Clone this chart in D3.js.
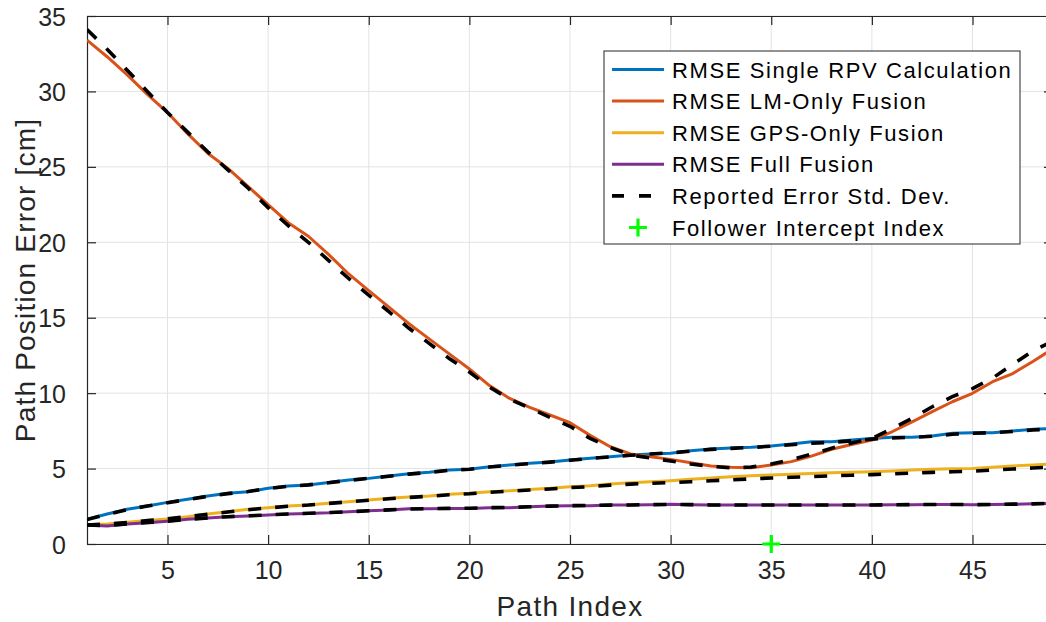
<!DOCTYPE html>
<html>
<head>
<meta charset="utf-8">
<script src="https://cdn.jsdelivr.net/npm/d3@7"></script>
<style>
  body { margin: 0; background: #fff; }
  svg { display: block; font-family: "Liberation Sans", Arial, Helvetica, sans-serif; }
</style>
</head>
<body>
<div id="chart"></div>
<script>
// path index 1..49
var pathIndex = d3.range(1, 50);

// RMSE curves [cm]
var rmseSingle = [1.64, 1.99, 2.30, 2.52, 2.76, 2.96, 3.18, 3.36, 3.47, 3.69,
  3.84, 3.91, 4.07, 4.24, 4.35, 4.50, 4.65, 4.75, 4.90, 4.95,
  5.12, 5.24, 5.35, 5.44, 5.57, 5.68, 5.79, 5.90, 5.97, 6.01,
  6.18, 6.30, 6.36, 6.41, 6.50, 6.63, 6.78, 6.78, 6.89, 7.00,
  7.07, 7.07, 7.16, 7.34, 7.38, 7.38, 7.49, 7.60, 7.65];

var rmseLM = [33.4, 32.3, 31.1, 29.8, 28.6, 27.2, 25.9, 24.9, 23.7, 22.5,
  21.3, 20.4, 19.2, 17.9, 16.8, 15.7, 14.6, 13.6, 12.6, 11.6,
  10.5, 9.65, 9.06, 8.55, 8.04, 7.2, 6.45, 5.97, 5.79, 5.61,
  5.39, 5.17, 5.08, 5.06, 5.24, 5.46, 5.83, 6.28, 6.60, 6.89,
  7.44, 8.10, 8.77, 9.43, 9.99, 10.76, 11.3, 12.1, 12.95];

var rmseGPS = [1.26, 1.33, 1.44, 1.55, 1.66, 1.81, 1.99, 2.14, 2.30, 2.41,
  2.52, 2.59, 2.70, 2.80, 2.92, 3.03, 3.12, 3.18, 3.29, 3.36,
  3.47, 3.53, 3.62, 3.69, 3.80, 3.86, 3.98, 4.06, 4.13, 4.20,
  4.29, 4.37, 4.46, 4.53, 4.57, 4.62, 4.68, 4.72, 4.76, 4.79,
  4.84, 4.90, 4.95, 4.98, 5.00, 5.08, 5.17, 5.24, 5.30];

var rmseFull = [1.26, 1.19, 1.33, 1.41, 1.50, 1.64, 1.72, 1.81, 1.86, 1.92,
  1.99, 2.03, 2.07, 2.14, 2.20, 2.25, 2.34, 2.34, 2.36, 2.36,
  2.41, 2.41, 2.47, 2.52, 2.54, 2.54, 2.59, 2.59, 2.61, 2.63,
  2.61, 2.59, 2.59, 2.59, 2.59, 2.59, 2.59, 2.59, 2.59, 2.59,
  2.60, 2.61, 2.62, 2.62, 2.60, 2.62, 2.64, 2.66, 2.70];

// reported error std. dev. (dashed) for each solution
var stdSingle = [1.62, 1.97, 2.28, 2.52, 2.74, 2.95, 3.16, 3.34, 3.48, 3.68,
  3.83, 3.92, 4.06, 4.22, 4.35, 4.49, 4.63, 4.75, 4.88, 4.96,
  5.10, 5.22, 5.33, 5.43, 5.55, 5.67, 5.78, 5.88, 5.97, 6.04,
  6.16, 6.27, 6.34, 6.40, 6.48, 6.58, 6.68, 6.74, 6.84, 6.95,
  7.03, 7.07, 7.14, 7.28, 7.34, 7.38, 7.46, 7.56, 7.62];

var stdLM = [34.1, 32.8, 31.4, 30.0, 28.6, 27.3, 26.0, 24.8, 23.6, 22.3,
  21.1, 20.0, 18.8, 17.6, 16.5, 15.4, 14.3, 13.3, 12.3, 11.4,
  10.4, 9.6, 9.0, 8.4, 7.8, 7.0, 6.4, 5.9, 5.7, 5.5,
  5.3, 5.15, 5.05, 5.1, 5.3, 5.6, 5.95, 6.35, 6.7, 7.0,
  7.65, 8.33, 9.1, 9.77, 10.3, 11.0, 11.9, 12.8, 13.45];

var stdGPS = [1.26, 1.32, 1.43, 1.55, 1.67, 1.82, 1.98, 2.12, 2.27, 2.39,
  2.50, 2.58, 2.69, 2.79, 2.90, 3.00, 3.09, 3.16, 3.26, 3.33,
  3.43, 3.50, 3.58, 3.65, 3.74, 3.80, 3.90, 3.97, 4.02, 4.07,
  4.13, 4.19, 4.25, 4.32, 4.37, 4.42, 4.47, 4.52, 4.56, 4.60,
  4.65, 4.70, 4.75, 4.79, 4.83, 4.90, 4.97, 5.04, 5.10];

var stdFull = [1.26, 1.22, 1.33, 1.42, 1.51, 1.63, 1.73, 1.81, 1.87, 1.93,
  1.99, 2.04, 2.08, 2.14, 2.20, 2.26, 2.32, 2.34, 2.36, 2.37,
  2.41, 2.42, 2.47, 2.51, 2.54, 2.55, 2.58, 2.59, 2.61, 2.62,
  2.61, 2.59, 2.59, 2.59, 2.59, 2.59, 2.59, 2.59, 2.59, 2.59,
  2.60, 2.61, 2.62, 2.62, 2.61, 2.62, 2.64, 2.66, 2.70];

// follower intercept index marker
var interceptIndex = [35];
var interceptValue = [0];

var xTicks = [5, 10, 15, 20, 25, 30, 35, 40, 45];
var yTicks = [0, 5, 10, 15, 20, 25, 30, 35];

var seriesNames = ["RMSE Single RPV Calculation", "RMSE LM-Only Fusion",
  "RMSE GPS-Only Fusion", "RMSE Full Fusion"];
var seriesColors = ["#0072BD", "#D95319", "#EDB120", "#7E2F8E"];

// svg size
var svgWidth = 1046;
var svgHeight = 622;

// axes box (right edge runs just past the picture)
var margin = { top: 16, right: -7, bottom: 78, left: 87 };
var width = svgWidth - margin.left - margin.right;
var height = svgHeight - margin.top - margin.bottom;

var svg = d3.select("#chart")
  .append("svg")
  .attr("width", svgWidth)
  .attr("height", svgHeight);

var chartGroup = svg.append("g")
  .attr("transform", `translate(${margin.left}, ${margin.top})`);

var xScale = d3.scaleLinear().domain([1, 49]).range([0, width]);
var yScale = d3.scaleLinear().domain([0, 35]).range([height, 0]);

var axisColor = "#262626";
var gridColor = "#e3e3e3";

// grid lines
chartGroup.append("g")
  .selectAll("line")
  .data(xTicks)
  .enter()
  .append("line")
  .attr("x1", d => xScale(d)).attr("x2", d => xScale(d))
  .attr("y1", 0).attr("y2", height)
  .attr("stroke", gridColor).attr("stroke-width", 1);

chartGroup.append("g")
  .selectAll("line")
  .data(yTicks)
  .enter()
  .append("line")
  .attr("x1", 0).attr("x2", width)
  .attr("y1", d => yScale(d)).attr("y2", d => yScale(d))
  .attr("stroke", gridColor).attr("stroke-width", 1);

// axes with inward ticks on all four sides
var bottomAxis = d3.axisBottom(xScale).tickValues(xTicks).tickSizeInner(-9).tickSizeOuter(0).tickPadding(17);
var topAxis = d3.axisTop(xScale).tickValues(xTicks).tickSizeInner(-9).tickSizeOuter(0).tickFormat("");
var leftAxis = d3.axisLeft(yScale).tickValues(yTicks).tickSizeInner(-9).tickSizeOuter(0).tickPadding(21);
var rightAxis = d3.axisRight(yScale).tickValues(yTicks).tickSizeInner(-9).tickSizeOuter(0).tickFormat("");

var xAxis = chartGroup.append("g")
  .attr("transform", `translate(0, ${height})`)
  .call(bottomAxis);
var xAxisTop = chartGroup.append("g").call(topAxis);
var yAxis = chartGroup.append("g").call(leftAxis);
var yAxisRight = chartGroup.append("g")
  .attr("transform", `translate(${width}, 0)`)
  .call(rightAxis);

[xAxis, xAxisTop, yAxis, yAxisRight].forEach(function(g) {
  g.select(".domain").attr("stroke", axisColor).attr("stroke-width", 1.2);
  g.selectAll(".tick line").attr("stroke", axisColor).attr("stroke-width", 1.2);
  g.selectAll(".tick text")
    .attr("fill", axisColor)
    .style("font-size", "25px")
    .style("font-family", "'Liberation Sans', Arial, sans-serif");
});
yAxis.selectAll(".tick text").attr("dy", "0.36em");

// clip the curves to the axes box
svg.append("defs").append("clipPath")
  .attr("id", "plotClip")
  .append("rect")
  .attr("x", 0).attr("y", 0)
  .attr("width", width).attr("height", height);

var plotGroup = chartGroup.append("g").attr("clip-path", "url(#plotClip)");

var lineGen = d3.line()
  .x((d, i) => xScale(pathIndex[i]))
  .y(d => yScale(d));

var rmseSeries = [rmseSingle, rmseLM, rmseGPS, rmseFull];
var stdSeries = [stdSingle, stdLM, stdGPS, stdFull];

// solid RMSE curves
plotGroup.selectAll(".rmse")
  .data(rmseSeries)
  .enter()
  .append("path")
  .attr("class", "rmse")
  .attr("d", d => lineGen(d))
  .attr("fill", "none")
  .attr("stroke", (d, i) => seriesColors[i])
  .attr("stroke-width", 3)
  .attr("stroke-linejoin", "round");

// dashed std. dev. curves
plotGroup.selectAll(".std")
  .data(stdSeries)
  .enter()
  .append("path")
  .attr("class", "std")
  .attr("d", d => lineGen(d))
  .attr("fill", "none")
  .attr("stroke", "#000")
  .attr("stroke-width", 3.6)
  .attr("stroke-dasharray", "13,14");

// intercept marker
chartGroup.selectAll(".intercept")
  .data(interceptIndex)
  .enter()
  .append("path")
  .attr("class", "intercept")
  .attr("d", "M-9,0H9M0,-9V9")
  .attr("transform", (d, i) => `translate(${xScale(d)}, ${yScale(interceptValue[i])})`)
  .attr("stroke", "#00FF00")
  .attr("stroke-width", 3.2)
  .attr("fill", "none");

// axis labels
svg.append("text")
  .attr("x", margin.left + xScale(25))
  .attr("y", 616)
  .attr("text-anchor", "middle")
  .attr("fill", axisColor)
  .style("font-size", "28px")
  .style("letter-spacing", "1.3px")
  .text("Path Index");

svg.append("text")
  .attr("transform", "rotate(-90)")
  .attr("x", -(margin.top + height / 2))
  .attr("y", 35)
  .attr("text-anchor", "middle")
  .attr("fill", axisColor)
  .style("font-size", "28px")
  .style("letter-spacing", "1.2px")
  .text("Path Position Error [cm]");

// legend
var legend = svg.append("g").attr("transform", "translate(604, 51)");
legend.append("rect")
  .attr("x", 0).attr("y", 0)
  .attr("width", 416).attr("height", 193)
  .attr("fill", "#fff")
  .attr("stroke", axisColor)
  .attr("stroke-width", 1);

var legendNames = seriesNames.concat(["Reported Error Std. Dev.", "Follower Intercept Index"]);
var rowY = d => 18.5 + d * 31.6;

legendNames.forEach(function(name, i) {
  var row = legend.append("g").attr("transform", `translate(0, ${rowY(i)})`);
  if (i < 4) {
    row.append("line")
      .attr("x1", 8).attr("x2", 60)
      .attr("stroke", seriesColors[i]).attr("stroke-width", 3);
  } else if (i === 4) {
    row.append("line")
      .attr("x1", 8).attr("x2", 60)
      .attr("stroke", "#000").attr("stroke-width", 3.6)
      .attr("stroke-dasharray", "12,15");
  } else {
    row.append("path")
      .attr("d", "M25,0H43M34,-9V9")
      .attr("stroke", "#00FF00").attr("stroke-width", 3.2);
  }
  row.append("text")
    .attr("x", 68)
    .attr("y", 8)
    .attr("fill", "#000")
    .style("font-size", "22px")
    .style("letter-spacing", "1.6px")
    .text(name);
});
</script>
</body>
</html>
